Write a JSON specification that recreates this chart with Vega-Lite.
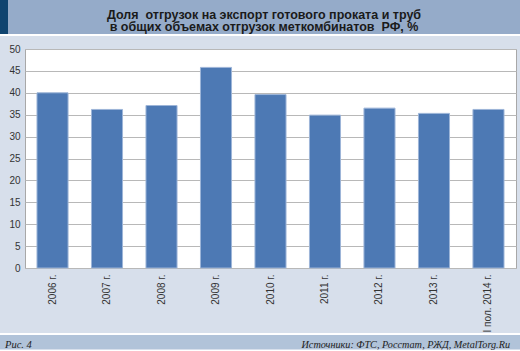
{
  "$schema": "https://vega.github.io/schema/vega-lite/v6.json",
  "padding": 0,
  "background": "#d7dfeb",
  "spacing": 0,
  "config": {
    "concat": {"spacing": 0},
    "font": "Liberation Sans",
    "view": {"stroke": null}
  },
  "vconcat": [
    {
      "spacing": 0,
      "hconcat": [
        {
          "width": 8, "height": 34,
          "view": {"fill": "#0f4470", "stroke": null},
          "data": {"values": []},
          "mark": "text",
          "encoding": {}
        },
        {
          "width": 512, "height": 34,
          "view": {"fill": "#95abc9", "stroke": null},
          "data": {"values": [
            {"line": 1, "text": "Доля \u00a0отгрузок на экспорт готового проката и труб"},
            {"line": 2, "text": "в общих объемах отгрузок меткомбинатов \u00a0РФ, %"}
          ]},
          "mark": {"type": "text", "font": "Liberation Sans", "fontWeight": "bold", "fontSize": 12.5, "color": "#1a1a1a", "align": "center", "dy": 4},
          "encoding": {
            "y": {"field": "line", "type": "ordinal", "axis": null, "scale": {"type": "point", "padding": 0.86}},
            "text": {"field": "text"}
          }
        }
      ]
    },
    {
      "width": 520, "height": 2,
      "view": {"fill": "white", "stroke": null},
      "data": {"values": []},
      "mark": "text",
      "encoding": {}
    },
    {
      "width": 520, "height": 7,
      "data": {"values": []},
      "mark": "text",
      "encoding": {}
    },
    {
      "spacing": -20,
      "align": "none",
      "hconcat": [
        {
          "width": 0, "height": 0,
          "data": {"values": []},
          "mark": "text",
          "encoding": {}
        },
        {
          "width": 491, "height": 219,
          "view": {"fill": "white", "stroke": "#a8a8a8"},
          "data": {"values": [
            {"year": "2006 г.", "share": 40.0},
            {"year": "2007 г.", "share": 36.2},
            {"year": "2008 г.", "share": 37.1},
            {"year": "2009 г.", "share": 45.8},
            {"year": "2010 г.", "share": 39.6},
            {"year": "2011 г.", "share": 34.9},
            {"year": "2012 г.", "share": 36.5},
            {"year": "2013 г.", "share": 35.3},
            {"year": "I пол. 2014 г.", "share": 36.2}
          ]},
          "mark": {"type": "bar", "color": "#4d79b4", "stroke": "#9db5d8", "strokeWidth": 1},
          "encoding": {
            "x": {
              "field": "year", "type": "nominal", "sort": null, "title": null,
              "scale": {"paddingInner": 0.43, "paddingOuter": 0.22},
              "axis": {"labelAngle": -90, "labelFontSize": 10, "labelColor": "#333333", "labelPadding": 6, "ticks": false, "domain": false, "grid": false, "minExtent": 64}
            },
            "y": {
              "field": "share", "type": "quantitative", "title": null,
              "scale": {"domain": [0, 50], "nice": false},
              "axis": {"values": [0, 5, 10, 15, 20, 25, 30, 35, 40, 45, 50], "labelFontSize": 10, "labelColor": "#333333", "labelPadding": 5, "ticks": false, "domain": false, "grid": true, "gridColor": "#b8b8b8", "minExtent": 24}
            }
          }
        }
      ]
    },
    {
      "width": 520, "height": 2,
      "view": {"fill": "white", "stroke": null},
      "data": {"values": []},
      "mark": "text",
      "encoding": {}
    },
    {
      "width": 520, "height": 14,
      "view": {"fill": "#b1c3d9", "stroke": null},
      "layer": [
        {
          "data": {"values": [{"side": "left", "text": "Рис. 4"}]},
          "mark": {"type": "text", "font": "Liberation Serif", "fontStyle": "italic", "fontSize": 10.5, "color": "#222222", "align": "left", "dx": 5, "dy": 2.5},
          "encoding": {
            "x": {"field": "side", "type": "nominal", "axis": null, "scale": {"type": "point", "domain": ["left", "right"], "padding": 0}},
            "text": {"field": "text"}
          }
        },
        {
          "data": {"values": [{"side": "right", "text": "Источники: ФТС, Росстат, РЖД, MetalTorg.Ru"}]},
          "mark": {"type": "text", "font": "Liberation Serif", "fontStyle": "italic", "fontSize": 10.2, "color": "#222222", "align": "right", "dx": -10, "dy": 2.5},
          "encoding": {
            "x": {"field": "side", "type": "nominal", "axis": null, "scale": {"type": "point", "domain": ["left", "right"], "padding": 0}},
            "text": {"field": "text"}
          }
        }
      ]
    }
  ]
}
